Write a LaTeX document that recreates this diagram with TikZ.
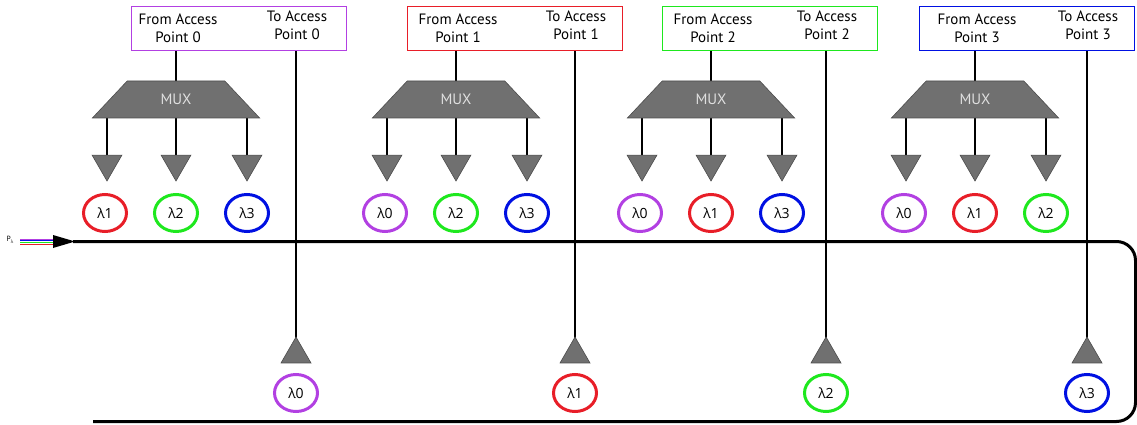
\documentclass[tikz,border=0pt]{standalone}
\usepackage{fontspec}
\setmainfont{PT Sans}
\newfontfamily\lamfont{Open Sans}
\usetikzlibrary{shapes.geometric,backgrounds}
\definecolor{wl0}{RGB}{178,64,226}
\definecolor{wl1}{RGB}{232,30,40}
\definecolor{wl2}{RGB}{30,232,30}
\definecolor{wl3}{RGB}{0,16,226}
\definecolor{muxgray}{RGB}{112,112,112}
\begin{document}
\begin{tikzpicture}[x=1pt,y=-1pt,
  apbox/.style={draw, line width=1.3pt, minimum width=215pt, minimum height=44pt, inner sep=0pt, anchor=north west},
  aplabel/.style={align=center, font=\fontsize{15}{18}\selectfont, inner sep=0pt},
  muxbox/.style={trapezium, trapezium stretches=true, trapezium left angle=44, trapezium right angle=44,
    minimum width=168pt, minimum height=37pt, fill=muxgray, draw=black!70, line width=0.6pt, inner sep=0pt,
    text=black!12, font=\fontsize{15}{16}\selectfont},
  downtri/.style={regular polygon, regular polygon sides=3, shape border rotate=180, minimum size=34.6pt,
    inner sep=0pt, fill=muxgray, draw=black!70, line width=0.6pt},
  uptri/.style={regular polygon, regular polygon sides=3, minimum size=34.6pt,
    inner sep=0pt, fill=muxgray, draw=black!70, line width=0.6pt},
  lam/.style={ellipse, line width=3pt, minimum width=43pt, minimum height=37pt, inner sep=0pt,
    font=\lamfont\fontsize{14}{15}\selectfont},
  wire/.style={line width=1.5pt},
  ring/.style={line width=3pt},
  feed/.style={line width=0.8pt}
]
\useasboundingbox (0,0) rectangle (1137,425);

% fibre ring
\coordinate (ringin) at (73,241.5);
\coordinate (ringtr) at (1135.5,241.5);
\coordinate (ringbr) at (1135.5,421.5);
\coordinate (ringend) at (93,421.5);
\draw[ring, rounded corners=19pt] (ringin) -- (ringtr) -- (ringbr) -- (ringend);

% multi-wavelength input
\node[inner sep=0pt, font=\fontsize{7.5}{8}\selectfont] (plab) at (10,240)
  {P\raisebox{-2pt}{\lamfont\fontsize{4.5}{5}\selectfont λ}};
\foreach \k/\yy in {0/239, 3/240.8, 2/242.6, 1/244.4} {
  \coordinate (fa\k) at (20,\yy);
  \coordinate (fb\k) at (55,\yy);
  \draw[feed, wl\k] (fa\k) -- (fb\k);
}
\coordinate (headtip) at (75,241.5);
\fill (53,235) -- (headtip) -- (53,248) -- cycle;

% access points
\foreach \i/\bl/\c/\tx/\la/\lb/\lc in {0/131/176/296/1/2/3, 1/407/456/575/0/2/3,
                                      2/662/711/826/0/1/3, 3/919/975/1087/0/1/2} {
  \node[apbox, draw=wl\i] (box\i) at (\bl,6) {};
  \node[aplabel] (from\i) at (\c+2,28) {From Access\\Point \i};
  \node[aplabel] (to\i) at (\tx+1,25.5) {To Access\\Point \i};
  \node[muxbox] (mux\i) at (\c,99.5) {MUX};
  \node[downtri] (ta\i) at (\c-69,163.7) {};
  \node[downtri] (tb\i) at (\c,163.7) {};
  \node[downtri] (tc\i) at (\c+71,163.7) {};
  \node[lam, draw=wl\la] (ca\i) at (\c-71,213) {λ\la};
  \node[lam, draw=wl\lb] (cb\i) at (\c,213) {λ\lb};
  \node[lam, draw=wl\lc] (cc\i) at (\c+71,213) {λ\lc};
  \node[uptri] (drop\i) at (\tx,354.3) {};
  \node[lam, draw=wl\i] (out\i) at (\tx,393) {λ\i};
  \begin{scope}[on background layer]
    \draw[wire] (box\i.south -| mux\i.north) -- (mux\i.north);
    \draw[wire] (mux\i.south -| ta\i) -- (ta\i.center);
    \draw[wire] (mux\i.south -| tb\i) -- (tb\i.center);
    \draw[wire] (mux\i.south -| tc\i) -- (tc\i.center);
    \draw[wire] (box\i.south -| drop\i) -- (drop\i.center);
  \end{scope}
}
\end{tikzpicture}
\end{document}
